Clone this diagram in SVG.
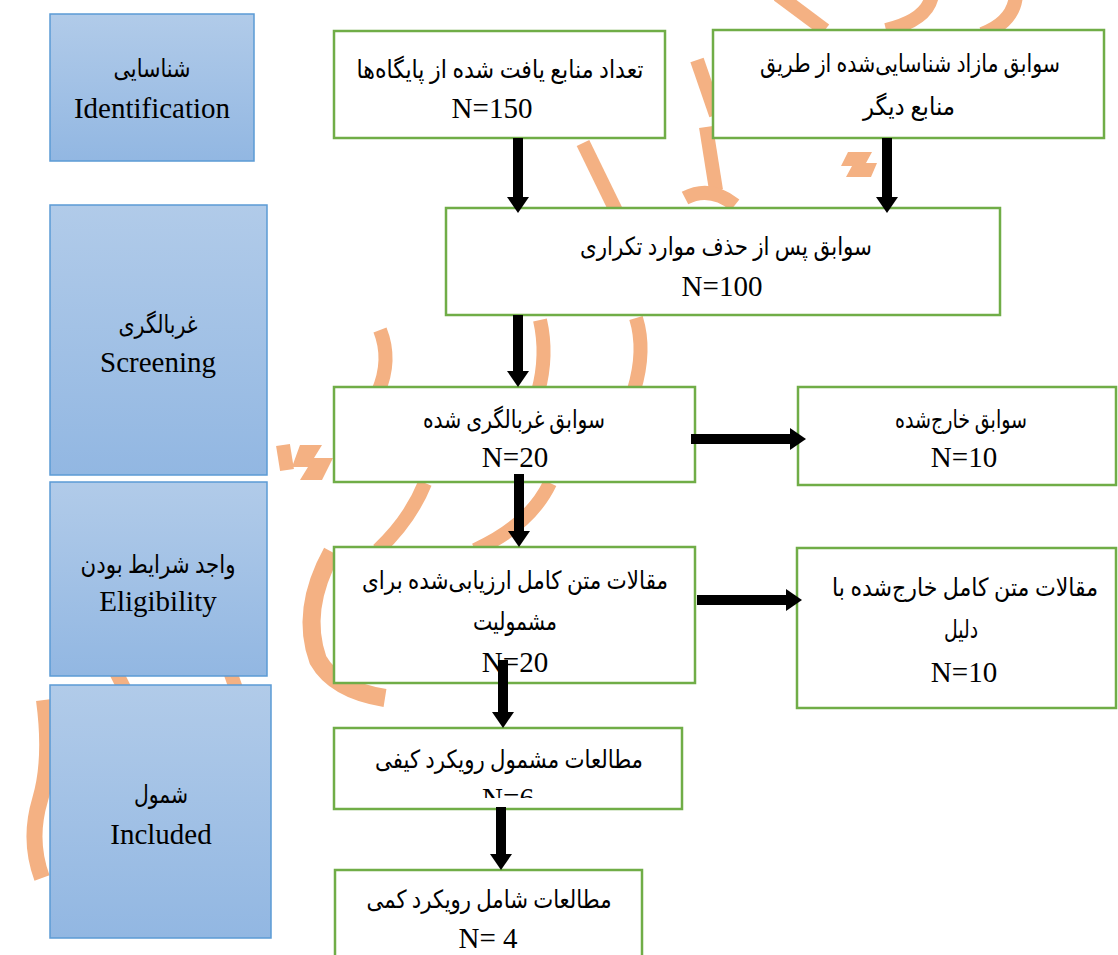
<svg xmlns="http://www.w3.org/2000/svg" width="1118" height="955" viewBox="0 0 1118 955">
<style>
.g{fill:#fff;stroke:#70ad47;stroke-width:2.5}
.b{fill:url(#blue);stroke:#5b9bd5;stroke-width:1.5}
.fa{font-family:"Liberation Serif","DejaVu Sans",serif;font-size:25px;fill:#000;text-anchor:middle;direction:rtl}
.en{font-family:"Liberation Serif",serif;font-size:29px;fill:#000;text-anchor:middle}
.ar{fill:none;stroke:#000;stroke-width:10;marker-end:url(#ah)}
.wm{fill:none;stroke:#f4b183;stroke-width:14;stroke-linecap:butt}
.wf{fill:#f4b183;stroke:none}
</style>
<defs>
<linearGradient id="blue" x1="0" y1="0" x2="0" y2="1">
<stop offset="0" stop-color="#b1cbe9"/>
<stop offset="1" stop-color="#92b7e2"/>
</linearGradient>
<marker id="ah" markerUnits="userSpaceOnUse" markerWidth="16" markerHeight="22" viewBox="0 0 16 22" refX="2" refY="11" orient="auto">
<path d="M0,0 L16,11 L0,22 Z" fill="#000"/>
</marker>
<clipPath id="clipH"><rect x="334" y="728" width="348" height="70"/></clipPath>
</defs>
<rect width="1118" height="955" fill="#fff"/>
<g id="watermark">
<path class="wm" d="M583,143 L640,260"/>
<path class="wm" d="M697,60 L716,115"/>
<path class="wm" d="M778,-5 L825,30"/>
<path class="wm" d="M932,-5 Q928,20 886,30"/>
<path class="wm" d="M1016,-5 Q1014,22 982,34"/>
<path class="wf" d="M848,152 L872,152 L866,163 L877,163 L871,177 L846,177 L852,166 L841,166 Z"/>
<path class="wm" d="M706,127 L716,190"/>
<path class="wm" d="M685,198 Q710,185 735,205"/>
<path class="wm" d="M380,330 Q392,360 378,392"/>
<path class="wm" d="M540,320 Q548,355 538,392"/>
<path class="wm" d="M636,318 Q646,350 634,390"/>
<path class="wf" d="M300,445 L322,445 L314,458 L333,458 L322,480 L300,480 L308,467 L292,467 Z"/>
<path class="wm" d="M425,483 Q410,520 378,550"/>
<path class="wm" d="M550,483 Q530,525 475,550"/>
<path d="M332,552 Q300,610 318,660 Q335,690 385,698" fill="none" stroke="#f4b183" stroke-width="18"/>
<path class="wm" d="M110,660 L130,700"/>
<path class="wm" d="M226,660 L240,700"/>
<path class="wm" d="M283,445 L287,470"/>
<path d="M44,700 Q52,760 40,800 Q28,840 42,878" fill="none" stroke="#f4b183" stroke-width="16"/>
</g>
<g id="stage-identification"><rect class="b" x="50" y="14" width="204" height="147"/><text class="fa" x="152" y="77" textLength="77" lengthAdjust="spacingAndGlyphs">شناسایی</text><text class="en" x="152" y="118">Identification</text></g>
<g id="stage-screening"><rect class="b" x="50" y="205" width="217" height="270"/><text class="fa" x="158" y="333" textLength="79" lengthAdjust="spacingAndGlyphs">غربالگری</text><text class="en" x="158" y="372">Screening</text></g>
<g id="stage-eligibility"><rect class="b" x="50" y="482" width="217" height="194"/><text class="fa" x="158" y="573" textLength="155" lengthAdjust="spacingAndGlyphs">واجد شرایط بودن</text><text class="en" x="158" y="611">Eligibility</text></g>
<g id="stage-included"><rect class="b" x="50" y="685" width="221" height="253"/><text class="fa" x="161" y="803" textLength="54" lengthAdjust="spacingAndGlyphs">شمول</text><text class="en" x="161" y="844">Included</text></g>
<g id="box-databases"><rect class="g" x="334" y="31" width="331" height="107"/><text class="fa" x="500" y="78" textLength="287" lengthAdjust="spacingAndGlyphs">تعداد منابع یافت شده از پایگاه&#8204;ها</text><text class="en" x="492" y="118">N=150</text></g>
<g id="box-other"><rect class="g" x="713" y="30" width="391" height="108"/><text class="fa" x="910" y="72" textLength="300" lengthAdjust="spacingAndGlyphs">سوابق مازاد شناسایی&#8204;شده از طریق</text><text class="fa" x="909" y="115" textLength="92" lengthAdjust="spacingAndGlyphs">منابع دیگر</text></g>
<g id="box-dedup"><rect class="g" x="446" y="208" width="554" height="107"/><text class="fa" x="726" y="255" textLength="292" lengthAdjust="spacingAndGlyphs">سوابق پس از حذف موارد تکراری</text><text class="en" x="722" y="296">N=100</text></g>
<g id="box-screened"><rect class="g" x="334" y="387" width="361" height="95"/><text class="fa" x="514" y="428" textLength="182" lengthAdjust="spacingAndGlyphs">سوابق غربالگری شده</text><text class="en" x="515" y="467">N=20</text></g>
<g id="box-excluded"><rect class="g" x="798" y="387" width="318" height="98"/><text class="fa" x="961" y="428" textLength="132" lengthAdjust="spacingAndGlyphs">سوابق خارج&#8204;شده</text><text class="en" x="964" y="467">N=10</text></g>
<g id="box-fulltext"><rect class="g" x="334" y="547" width="361" height="136"/><text class="fa" x="515" y="589" textLength="306" lengthAdjust="spacingAndGlyphs">مقالات متن کامل ارزیابی&#8204;شده برای</text><text class="fa" x="515" y="630" textLength="84" lengthAdjust="spacingAndGlyphs">مشمولیت</text><text class="en" x="515" y="672">N=20</text></g>
<g id="box-fulltext-excluded"><rect class="g" x="797" y="548" width="319" height="160"/><text class="fa" x="965" y="596" textLength="266" lengthAdjust="spacingAndGlyphs">مقالات متن کامل خارج&#8204;شده با</text><text class="fa" x="961" y="638" textLength="34" lengthAdjust="spacingAndGlyphs">دلیل</text><text class="en" x="964" y="682">N=10</text></g>
<g id="box-qualitative"><rect class="g" x="334" y="728" width="348" height="81"/><text class="fa" x="509" y="768" textLength="268" lengthAdjust="spacingAndGlyphs">مطالعات مشمول رویکرد کیفی</text><text class="en" x="508" y="808" clip-path="url(#clipH)">N=6</text></g>
<g id="box-quantitative"><rect class="g" x="335" y="870" width="307" height="100"/><text class="fa" x="489" y="908" textLength="245" lengthAdjust="spacingAndGlyphs">مطالعات شامل رویکرد کمی</text><text class="en" x="488" y="948">N= 4</text></g>
<g id="connectors">
<path class="ar" d="M518,138 V199"/>
<path class="ar" d="M887,138 V199"/>
<path class="ar" d="M518,315 V373"/>
<path class="ar" d="M519,474 V533"/>
<path class="ar" d="M691,439 H792"/>
<path class="ar" d="M697,600 H788"/>
<path class="ar" d="M503,660 V714"/>
<path class="ar" d="M501,807 V856"/>
</g>
</svg>
